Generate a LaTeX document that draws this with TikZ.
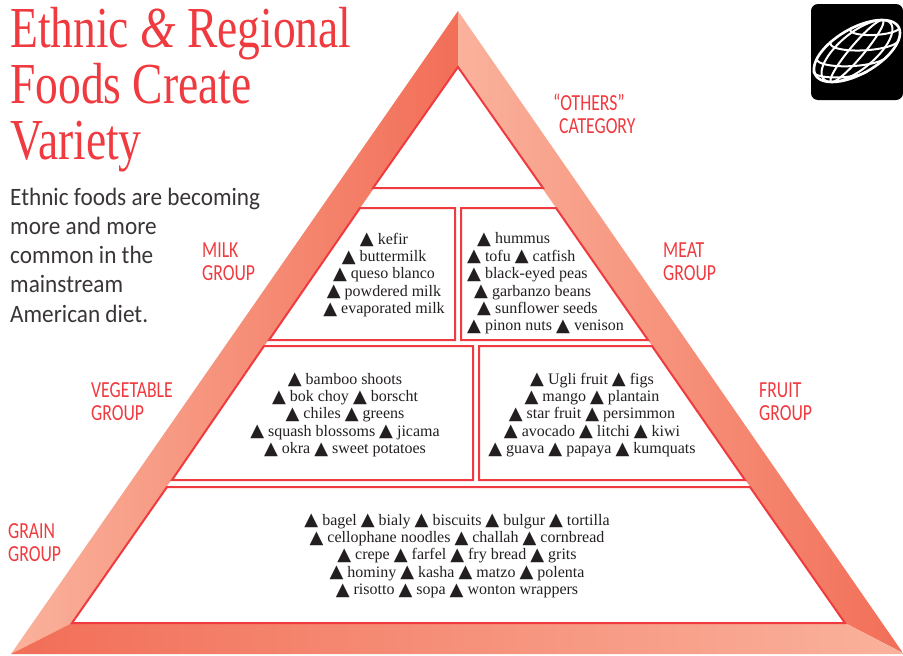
\documentclass[tikz,border=0pt]{standalone}
\usepackage{fontspec}
\setmainfont{Liberation Serif}
\newfontfamily\trifont{DejaVu Sans}
\newfontfamily\titlefont[FakeStretch=0.785]{Liberation Serif}
\newfontfamily\bodyfont[FakeStretch=0.93]{Carlito}
\newfontfamily\groupfont[FakeStretch=0.77]{Carlito}
\newfontfamily\foodfont{Liberation Serif}
\newcommand{\tri}{\smash{\raisebox{-0.6pt}{\fontsize{18}{18}\trifont\selectfont ▲}}}
\definecolor{dk}{HTML}{F26E57}
\definecolor{lt}{HTML}{FAB29C}
\definecolor{rd}{HTML}{EF3A3F}
\definecolor{ink}{HTML}{231F20}
\tikzset{
  band/.style={draw=none},
  panel/.style={draw=rd,line width=2pt,line join=miter,fill=white},
  grp/.style={text=rd,font=\groupfont\fontsize{23}{23.5}\selectfont,align=left,inner sep=0pt,anchor=base west},
  food/.style={text=ink,font=\foodfont\fontsize{16}{17.35}\selectfont,align=center,inner sep=0pt},
  ttl/.style={text=rd,inner sep=0pt,anchor=base west,font=\titlefont\fontsize{58}{56}\selectfont},
}
\begin{document}
\begin{tikzpicture}[x=1pt,y=-1pt]
\useasboundingbox (0,0) rectangle (903,656);
% frame
\shade[band,left color=lt,right color=dk] (11,654) -- (458,11) -- (458,67) -- (72,623) -- cycle;
\shade[band,left color=lt,right color=dk] (458,11) -- (903,653) -- (845,623) -- (458,67) -- cycle;
\shade[band,left color=dk,right color=lt] (11,654) -- (72,623) -- (845,623) -- (903,653) -- (903,654) -- cycle;
% panels
\draw[panel] (458,67) -- (543,188) -- (373,188) -- cycle;
\draw[panel] (360,208) -- (455,208) -- (455,340) -- (269,340) -- cycle;
\draw[panel] (461,208) -- (556,208) -- (648,340) -- (461,340) -- cycle;
\draw[panel] (264,346) -- (473,346) -- (473,480) -- (172,480) -- cycle;
\draw[panel] (479,346) -- (652,346) -- (745,480) -- (479,480) -- cycle;
\draw[panel] (167,487) -- (750,487) -- (845,623) -- (72,623) -- cycle;
% title
\node[ttl] (title1) at (10,47) {Ethnic {\itshape\&} Regional};
\node[ttl] (title2) at (10,103) {Foods Create};
\node[ttl] (title3) at (10,159) {Variety};
% intro
\node[text=ink!90,inner sep=0pt,anchor=north west,align=left,font=\bodyfont\fontsize{25}{29.3}\selectfont] (intro) at (10,187.5) {Ethnic foods are becoming\\more and more\\common in the\\mainstream\\American diet.};
% group labels
\node[grp] (others) at (553,133.5) {“OTHERS”\\\hspace*{6pt}CATEGORY};
\node[grp] (milk) at (202,280.5) {MILK\\GROUP};
\node[grp] (meat) at (663,280.5) {MEAT\\GROUP};
\node[grp] (veg) at (91,420.5) {VEGETABLE\\GROUP};
\node[grp] (fruit) at (759,420.5) {FRUIT\\GROUP};
\node[grp] (grain) at (8,561.5) {GRAIN\\GROUP};
% foods
\node[food] (milkfoods) at (384,275) {\tri{} kefir\\\tri{} buttermilk\\\tri{} queso blanco\\\tri{} powdered milk\\\tri{} evaporated milk};
\node[food,align=left,anchor=west] (meatfoods) at (467,283.5) {\hspace*{10pt}\tri{} hummus\\\tri{} tofu \tri{} catfish\\\tri{} black-eyed peas\\\hspace*{7pt}\tri{} garbanzo beans\\\hspace*{10pt}\tri{} sunflower seeds\\\tri{} pinon nuts \tri{} venison};
\node[food] (vegfoods) at (345,415) {\tri{} bamboo shoots\\\tri{} bok choy \tri{} borscht\\\tri{} chiles \tri{} greens\\\tri{} squash blossoms \tri{} jicama\\\tri{} okra \tri{} sweet potatoes};
\node[food] (fruitfoods) at (592,415) {\tri{} Ugli fruit \tri{} figs\\\tri{} mango \tri{} plantain\\\tri{} star fruit \tri{} persimmon\\\tri{} avocado \tri{} litchi \tri{} kiwi\\\tri{} guava \tri{} papaya \tri{} kumquats};
\node[food] (grainfoods) at (457,556) {\tri{} bagel \tri{} bialy \tri{} biscuits \tri{} bulgur \tri{} tortilla\\\tri{} cellophane noodles \tri{} challah \tri{} cornbread\\\tri{} crepe \tri{} farfel \tri{} fry bread \tri{} grits\\\tri{} hominy \tri{} kasha \tri{} matzo \tri{} polenta\\\tri{} risotto \tri{} sopa \tri{} wonton wrappers};
% globe badge
\fill[black,rounded corners=7pt] (811,4) rectangle (903,100);
\begin{scope}[shift={(857,51)},x={(35pt,0pt)},y={(25pt,31pt)},draw=white,line width=2pt]
\draw[line width=2.6pt] plot[domain=0:360,samples=72,smooth] ({cos(\x)},{sin(\x)});
\foreach \k in {-0.72,-0.25,0.25,0.72}
  \draw plot[domain=-90:90,samples=30,smooth] ({\k*cos(\x)},{sin(\x)});
\foreach \t/\w in {0.72/0.69,0.3/0.95,-0.2/0.98,-0.62/0.78}
  \draw plot[domain=180:360,samples=30,smooth] ({\w*cos(\x)},{\t+0.3*\w*sin(\x)});
\end{scope}
\end{tikzpicture}
\end{document}
